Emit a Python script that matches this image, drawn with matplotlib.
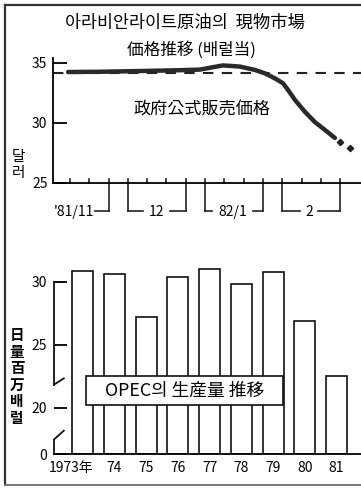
import matplotlib.pyplot as plt
from matplotlib.lines import Line2D
from matplotlib.patches import Rectangle

plt.rcParams['font.family'] = ['Noto Sans CJK KR', 'DejaVu Sans']

# --- data: spot price of Arabian Light (weekly index, $ per barrel) ---
week_pos = [-0.1, 1.55, 3.63, 5.70, 6.74, 7.51, 7.93, 8.81, 9.59, 10.10,
            10.62, 11.04, 11.30, 11.66, 12.18, 12.69, 13.21, 13.73]
spot_price = [34.25, 34.27, 34.33, 34.40, 34.45, 34.68, 34.80, 34.70, 34.42,
              34.14, 33.72, 33.31, 32.75, 31.92, 30.92, 30.08, 29.42, 28.75]
tail_pos = [13.99, 14.51]
tail_price = [28.42, 27.92]
official_price = 34.2
month_labels = ["'81/11", "12", "82/1", "2"]

# --- data: OPEC production (million barrels per day) ---
years = ["1973年", "74", "75", "76", "77", "78", "79", "80", "81"]
production = [30.85, 30.6, 27.2, 30.4, 31.0, 29.85, 30.8, 26.9, 22.5]

W, H = 361, 488
fig = plt.figure(figsize=(W / 100, H / 100), dpi=100)


def fx(px):
    return px / W


def fy(py):
    return 1 - py / H


# frame
fig.add_artist(Line2D([fx(5), fx(5)], [fy(5), fy(485)], color='#333', lw=1.6))
fig.add_artist(Line2D([fx(5), fx(361)], [fy(5), fy(5)], color='#333', lw=1.6))
fig.add_artist(Line2D([fx(5), fx(361)], [fy(485), fy(485)], color='#777', lw=1.4))

# ---------------- top chart ----------------
ax1 = fig.add_axes([fx(53), fy(183), fx(361 - 53), (183 - 63) / H])
ax1.set_xlim(-0.88, 15.08)
ax1.set_ylim(25, 35)
for s in ['top', 'right']:
    ax1.spines[s].set_visible(False)
ax1.spines['left'].set_linewidth(1.3)
ax1.spines['bottom'].set_linewidth(1.3)
ax1.spines['left'].set_bounds(25, 35.4)

ax1.axhline(official_price, color='#222', lw=1.5, ls=(0, (5, 4)), zorder=1)
ax1.plot(week_pos, spot_price, color='#2a2a2a', lw=3.2, solid_capstyle='round',
         solid_joinstyle='round', zorder=3, clip_on=False)
ax1.plot(tail_pos, tail_price, ls='none', marker='D', ms=3.2, color='#222',
         clip_on=False)

ax1.set_yticks([25, 30, 35])
ax1.set_yticklabels(['25', '30', '35'])
ax1.tick_params(axis='y', direction='in', length=10, width=1.3, pad=4,
                labelsize=10)
ax1.set_xticks([])

# weekly ticks with month brackets
long_ticks = [2, 3, 6, 7, 10, 11, 14]
for k in range(15):
    y_low = 22.7 if k in long_ticks else 25
    ax1.plot([k, k], [y_low, 25.35], color='#222', lw=1.2, clip_on=False)
bracket_segs = [(1.3, 2), (3, 3.78), (5.18, 6), (7, 7.36), (9.48, 10),
                (11, 11.92), (12.85, 14)]
for a, b in bracket_segs:
    ax1.plot([a, b], [22.7, 22.7], color='#222', lw=1.2, clip_on=False)
month_x = [0.2, 4.48, 8.42, 12.38]
for x, lab in zip(month_x, month_labels):
    ax1.text(x, 22.6, lab, ha='center', va='center', fontsize=10)

ax1.text(5.96, 38.33, '아라비안라이트原油의  現物市場', ha='center', va='center',
         fontsize=12.5)
ax1.text(6.3, 36.08, '価格推移 (배럴当)', ha='center', va='center', fontsize=12)
ax1.text(6.84, 31.08, '政府公式販売価格', ha='center', va='center', fontsize=12.3)
fig.text(fx(18), fy(157), '달', ha='center', va='center', fontsize=10.5)
fig.text(fx(18), fy(173), '러', ha='center', va='center', fontsize=10.5)

# ---------------- bottom chart ----------------
y0 = 16.35
ax2 = fig.add_axes([fx(54), fy(454), fx(361 - 54), (454 - 263) / H])
ax2.set_xlim(-0.9, 8.77)
ax2.set_ylim(y0, 31.5)
for s in ['top', 'right', 'left']:
    ax2.spines[s].set_visible(False)
ax2.spines['bottom'].set_linewidth(1.3)

xs = list(range(len(years)))
ax2.bar(xs, [p - y0 for p in production], bottom=y0, width=0.66,
        color='white', edgecolor='#111', lw=1.2, zorder=2)

# y axis with break
tr = ax2.get_yaxis_transform()
ax2.plot([0, 0], [30, 21.85], color='#111', lw=1.3, transform=tr, clip_on=False)
ax2.plot([0, 0.032], [21.85, 22.35], color='#111', lw=1.3, transform=tr,
         clip_on=False)
ax2.plot([0, 0], [y0, 17.5], color='#111', lw=1.3, transform=tr, clip_on=False)
ax2.plot([0, 0.032], [17.5, 18.2], color='#111', lw=1.3, transform=tr,
         clip_on=False)
ax2.plot([0, 0.03], [30, 30], color='#111', lw=1.3, transform=tr, clip_on=False)

ax2.set_yticks([y0, 20, 25, 30])
ax2.set_yticklabels(['0', '20', '25', '30'])
ax2.tick_params(axis='y', direction='in', length=9, width=1.3, pad=5,
                labelsize=10)
ax2.set_xticks([])
for i, lab in enumerate(years):
    if i == 0:
        ax2.text(i + 0.33, y0 - 1.12, lab, ha='right', va='center', fontsize=10)
    else:
        ax2.text(i, y0 - 1.12, lab, ha='center', va='center', fontsize=10)

ax2.add_patch(Rectangle((0.11, 20.24), 6.2, 2.3, facecolor='white',
                        edgecolor='#111', lw=1.2, zorder=4))
ax2.text(3.21, 21.39, 'OPEC의 生産量 推移', ha='center', va='center',
         fontsize=12.8, zorder=5)

for j, ch in enumerate('日量百万배럴'):
    fig.text(fx(17), fy(335 + 16.5 * j), ch, ha='center', va='center',
             fontsize=10.5, fontweight='bold')

fig.savefig('out.png', dpi=100)
